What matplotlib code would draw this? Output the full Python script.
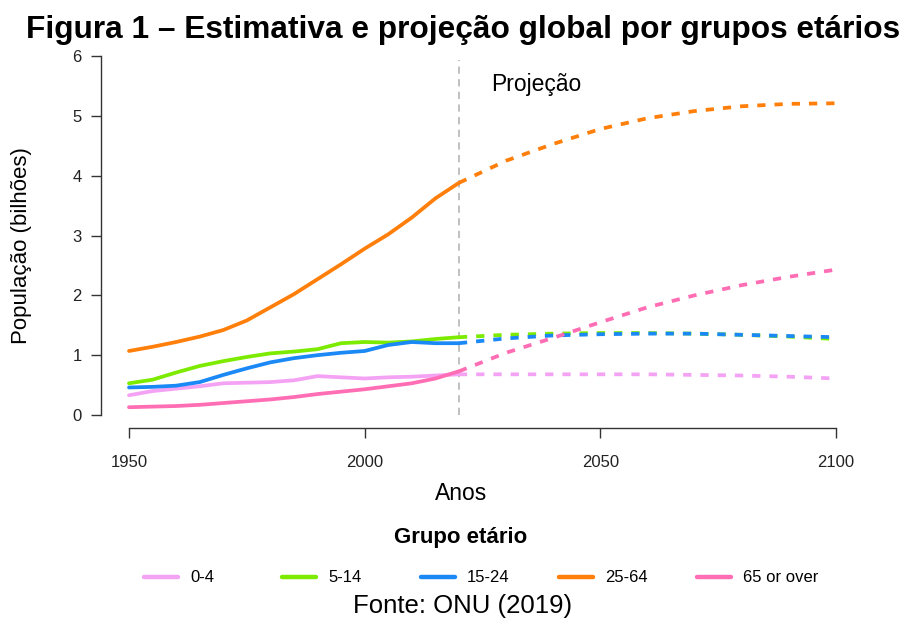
import matplotlib
matplotlib.use('Agg')
import matplotlib.pyplot as plt
from matplotlib.lines import Line2D

plt.rcParams['font.family'] = ['Liberation Sans', 'DejaVu Sans']

# historical estimates (1950-2020, every 5 years)
years_hist = [1950, 1955, 1960, 1965, 1970, 1975, 1980, 1985, 1990, 1995,
              2000, 2005, 2010, 2015, 2020]
hist_0_4 = [0.33, 0.40, 0.44, 0.48, 0.53, 0.54, 0.55, 0.58, 0.65, 0.63,
            0.61, 0.63, 0.64, 0.66, 0.68]
hist_5_14 = [0.53, 0.59, 0.71, 0.82, 0.90, 0.97, 1.03, 1.06, 1.10, 1.20,
             1.22, 1.21, 1.23, 1.27, 1.30]
hist_15_24 = [0.46, 0.47, 0.49, 0.55, 0.67, 0.78, 0.88, 0.95, 1.00, 1.04,
              1.07, 1.17, 1.22, 1.20, 1.20]
hist_25_64 = [1.07, 1.14, 1.22, 1.31, 1.42, 1.58, 1.80, 2.02, 2.27, 2.52,
              2.78, 3.02, 3.30, 3.62, 3.88]
hist_65 = [0.13, 0.14, 0.15, 0.17, 0.20, 0.23, 0.26, 0.30, 0.35, 0.39,
           0.43, 0.48, 0.53, 0.61, 0.73]

# projections (2020-2100, every 10 years)
years_proj = [2020, 2030, 2040, 2050, 2060, 2070, 2080, 2090, 2100]
proj_0_4 = [0.68, 0.68, 0.68, 0.68, 0.68, 0.67, 0.66, 0.64, 0.61]
proj_5_14 = [1.30, 1.34, 1.36, 1.37, 1.37, 1.36, 1.34, 1.31, 1.27]
proj_15_24 = [1.20, 1.28, 1.33, 1.35, 1.36, 1.36, 1.34, 1.32, 1.30]
proj_25_64 = [3.88, 4.25, 4.53, 4.78, 4.96, 5.08, 5.16, 5.20, 5.21]
proj_65 = [0.73, 1.04, 1.29, 1.55, 1.80, 2.00, 2.17, 2.31, 2.43]

groups = ['0-4', '5-14', '15-24', '25-64', '65 or over']
colors = ['#F4A3F4', '#7CEB00', '#1A88F5', '#FF7F0A', '#FF6EB4']
hist = [hist_0_4, hist_5_14, hist_15_24, hist_25_64, hist_65]
proj = [proj_0_4, proj_5_14, proj_15_24, proj_25_64, proj_65]

W, H = 909, 626
fig = plt.figure(figsize=(W / 100, H / 100), dpi=100)
ax = fig.add_axes([129 / W, 1 - 415 / H, (836 - 129) / W, (415 - 56) / H])
ax.set_xlim(1950, 2100)
ax.set_ylim(0, 6)

for h, p, c in zip(hist, proj, colors):
    ax.plot(years_hist, h, color=c, lw=2.7, solid_capstyle='round', clip_on=False)
    ax.plot(years_proj, p, color=c, lw=2.7, dashes=(2.2, 2.4), clip_on=False)

ax.axvline(2020, ymin=0, ymax=0.99, color='#BBBBBB', lw=1.3, dashes=(4, 3), zorder=0)
ax.text(2026.8, 5.53, 'Projeção', fontsize=16.5, va='center', ha='left')

for s in ['top', 'right']:
    ax.spines[s].set_visible(False)
ax.spines['left'].set_position(('outward', 20))
ax.spines['bottom'].set_position(('outward', 9.5))
ax.spines['left'].set_bounds(0, 6)
ax.spines['bottom'].set_bounds(1950, 2100)
for s in ['left', 'bottom']:
    ax.spines[s].set_color('#333333')
    ax.spines[s].set_linewidth(1.0)
ax.set_xticks([1950, 2000, 2050, 2100])
ax.set_yticks(range(0, 7))
ax.tick_params(axis='both', colors='#333333', labelcolor='#222222',
               length=7, width=1.0, labelsize=12)
ax.tick_params(axis='y', pad=7)
ax.tick_params(axis='x', pad=12)

fig.text(463 / W, 1 - 30 / H, 'Figura 1 – Estimativa e projeção global por grupos etários',
         fontsize=22.8, fontweight='bold', ha='center', va='center')
fig.text(22 / W, 1 - 246 / H, 'População (bilhões)', fontsize=16,
         rotation=90, ha='center', va='center')
fig.text(461 / W, 1 - 494 / H, 'Anos', fontsize=16.5, ha='center', va='center')
fig.text(461 / W, 1 - 537 / H, 'Grupo etário', fontsize=16, fontweight='bold',
         ha='center', va='center')

# legend drawn as a row of short lines + labels
for i, (g, c) in enumerate(zip(groups, colors)):
    x0 = 144 + 138.3 * i
    fig.add_artist(Line2D([x0 / W, (x0 + 34) / W], [1 - 577 / H, 1 - 577 / H],
                          transform=fig.transFigure, color=c, lw=3.2,
                          solid_capstyle='round'))
    fig.text((x0 + 46) / W, 1 - 577 / H, g, fontsize=12, ha='left', va='center')

fig.text(463 / W, 1 - 606 / H, 'Fonte: ONU (2019)', fontsize=18.5, ha='center', va='center')

fig.savefig('out.png', dpi=100)
